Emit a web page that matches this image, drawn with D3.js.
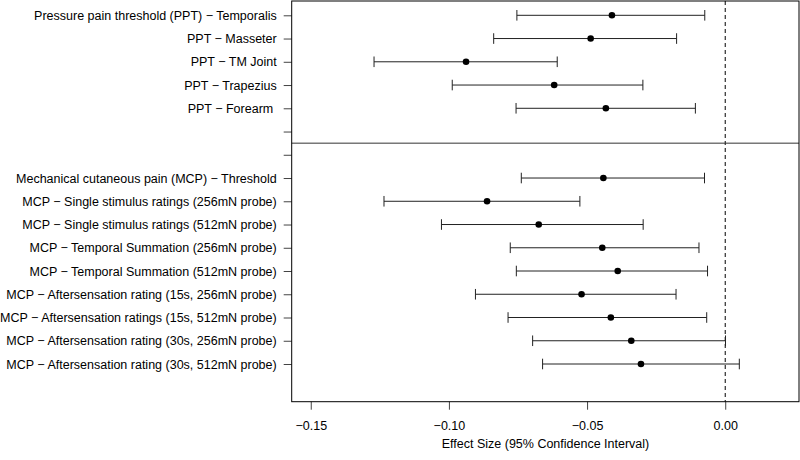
<!DOCTYPE html>
<html>
<head>
<meta charset="utf-8">
<script src="https://cdn.jsdelivr.net/npm/d3@7"></script>
<style>
  body { margin: 0; background: #fff; }
  svg { display: block; }
  text { font-family: "Liberation Sans", Arial, sans-serif; fill: #000; }
</style>
</head>
<body>
<div id="chart"></div>
<script>
// rows top to bottom; the two blank rows carry a tick but no mark
var labels = [
  "Pressure pain threshold (PPT) \u2212 Temporalis",
  "PPT \u2212 Masseter",
  "PPT \u2212 TM Joint",
  "PPT \u2212 Trapezius",
  "PPT \u2212 Forearm ",
  "",
  "",
  "Mechanical cutaneous pain (MCP) \u2212 Threshold",
  "MCP \u2212 Single stimulus ratings (256mN probe)",
  "MCP \u2212 Single stimulus ratings (512mN probe)",
  "MCP \u2212 Temporal Summation (256mN probe)",
  "MCP \u2212 Temporal Summation (512mN probe)",
  "MCP \u2212 Aftersensation rating (15s, 256mN probe)",
  "MCP \u2212 Aftersensation ratings (15s, 512mN probe)",
  "MCP \u2212 Aftersensation rating (30s, 256mN probe)",
  "MCP \u2212 Aftersensation rating (30s, 512mN probe)"
];
var estimate = [-0.0410, -0.0487, -0.0938, -0.0619, -0.0432, null, null,
  -0.0441, -0.0862, -0.0675, -0.0445, -0.0389, -0.0520, -0.0414, -0.0340, -0.0305];
var lower = [-0.0754, -0.0838, -0.1271, -0.0988, -0.0757, null, null,
  -0.0738, -0.1235, -0.1027, -0.0778, -0.0756, -0.0904, -0.0786, -0.0697, -0.0661];
var upper = [-0.0074, -0.0176, -0.0608, -0.0298, -0.0108, null, null,
  -0.0075, -0.0526, -0.0297, -0.0095, -0.0064, -0.0178, -0.0067, 0.0001, 0.0051];
var xTicks = [-0.15, -0.10, -0.05, 0.00];
var xTitle = "Effect Size (95% Confidence Interval)";

var width = 800, height = 460;
var plotL = 291.7, plotR = 799, plotT = 1, plotB = 401.7;

var svg = d3.select("#chart").append("svg")
  .attr("width", width)
  .attr("height", height);

var x = d3.scaleLinear().domain([-0.1569, 0.0267]).range([plotL, plotR]);
var y = d3.scaleLinear().domain([0, labels.length - 1]).range([15.3, 364]);

var rows = labels.map(function (d, i) {
  return { i: i, label: d, est: estimate[i], lo: lower[i], hi: upper[i] };
});
var marks = rows.filter(function (d) { return d.est !== null; });

// y axis with row labels
var yAxis = d3.axisLeft(y)
  .tickValues(d3.range(labels.length))
  .tickFormat(function (i) { return labels[i]; })
  .tickSize(8)
  .tickPadding(7);
var gy = svg.append("g").attr("transform", "translate(" + plotL + ",0)").call(yAxis);
gy.select(".domain").remove();
gy.selectAll("text").style("font-size", "12.5px").style("white-space", "pre")
  .attr("font-family", null);
gy.selectAll("line").attr("stroke", "#444");

// x axis
var fmt = d3.format(".2f");
var xAxis = d3.axisBottom(x)
  .tickValues(xTicks)
  .tickFormat(function (v) { return fmt(v).replace("-", "\u2212"); })
  .tickSize(8)
  .tickPadding(11);
var gx = svg.append("g").attr("transform", "translate(0," + plotB + ")").call(xAxis);
gx.select(".domain").remove();
gx.selectAll("text").style("font-size", "12.5px").attr("font-family", null);
gx.selectAll("line").attr("stroke", "#444");

svg.append("text")
  .attr("x", 545.5)
  .attr("y", 447.5)
  .attr("text-anchor", "middle")
  .style("font-size", "12.5px")
  .text(xTitle);

// reference line at zero
svg.append("line")
  .attr("x1", x(0)).attr("x2", x(0))
  .attr("y1", plotT).attr("y2", plotB)
  .attr("stroke", "#000")
  .attr("stroke-dasharray", "4,3");

// divider between the two groups
svg.append("line")
  .attr("x1", plotL).attr("x2", plotR)
  .attr("y1", (y(5) + y(6)) / 2).attr("y2", (y(5) + y(6)) / 2)
  .attr("stroke", "#333");

// error bars
var bars = svg.append("g").attr("stroke", "#222").attr("stroke-width", 1);
bars.selectAll(".ci").data(marks).join("line")
  .attr("x1", function (d) { return x(d.lo); })
  .attr("x2", function (d) { return x(d.hi); })
  .attr("y1", function (d) { return y(d.i); })
  .attr("y2", function (d) { return y(d.i); });
bars.selectAll(".capl").data(marks).join("line")
  .attr("x1", function (d) { return x(d.lo); })
  .attr("x2", function (d) { return x(d.lo); })
  .attr("y1", function (d) { return y(d.i) - 5.3; })
  .attr("y2", function (d) { return y(d.i) + 5.3; });
bars.selectAll(".caph").data(marks).join("line")
  .attr("x1", function (d) { return x(d.hi); })
  .attr("x2", function (d) { return x(d.hi); })
  .attr("y1", function (d) { return y(d.i) - 5.3; })
  .attr("y2", function (d) { return y(d.i) + 5.3; });

svg.append("g").selectAll("circle").data(marks).join("circle")
  .attr("cx", function (d) { return x(d.est); })
  .attr("cy", function (d) { return y(d.i); })
  .attr("r", 3.3)
  .attr("fill", "#000");

// plot box
svg.append("rect")
  .attr("x", plotL).attr("y", plotT)
  .attr("width", plotR - plotL).attr("height", plotB - plotT)
  .attr("fill", "none")
  .attr("stroke", "#000");
</script>
</body>
</html>
